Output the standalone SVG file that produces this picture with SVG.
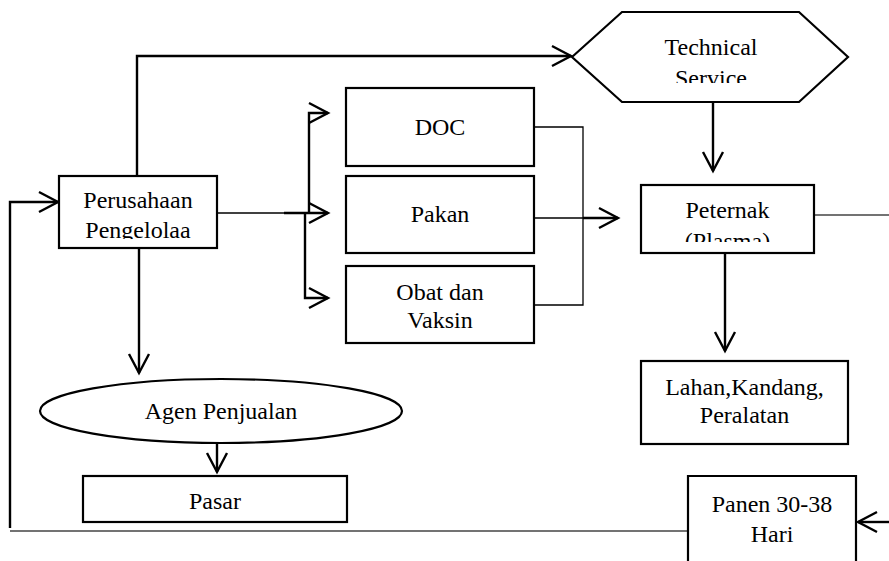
<svg xmlns="http://www.w3.org/2000/svg" width="889" height="561" viewBox="0 0 889 561">
<style>
.box{fill:#fff;stroke:#000;stroke-width:2.2}
.t{font-family:"Liberation Serif","Times New Roman",Times,serif;font-size:24px;fill:#000;text-anchor:middle}
.thick{fill:none;stroke:#000;stroke-width:2.4}
.thin{fill:none;stroke:#000;stroke-width:1.3}
.gray{fill:none;stroke:#444;stroke-width:1.6}
</style>
<defs>
<marker id="ah" markerUnits="userSpaceOnUse" markerWidth="24" markerHeight="24" refX="19" refY="10" orient="auto" overflow="visible">
<path d="M0,0 L19,10 L0,20" fill="none" stroke="#000" stroke-width="2.4"/>
</marker>
<clipPath id="cPer"><rect x="59" y="176" width="158" height="63"/></clipPath>
<clipPath id="cTS"><rect x="572" y="12" width="276" height="71"/></clipPath>
<clipPath id="cPet"><rect x="641" y="185" width="173" height="57"/></clipPath>
</defs>
<rect width="889" height="561" fill="#fff"/>
<g id="connectors">
<path class="thick" d="M137,176 V56 H571" marker-end="url(#ah)"/>
<path class="thin" d="M217,213 H284"/>
<path class="thick" d="M284,213 H328" marker-end="url(#ah)"/>
<path class="thick" d="M309,213 V113 H328" marker-end="url(#ah)"/>
<path class="thick" d="M305,213 V298 H328" marker-end="url(#ah)"/>
<path class="thin" d="M534,127 H583 V305 H534"/>
<path class="thin" d="M534,218 H583"/>
<path class="thick" d="M583,218 H618" marker-end="url(#ah)"/>
<path class="thick" d="M713,102 V171" marker-end="url(#ah)"/>
<path class="thick" d="M725,253 V351" marker-end="url(#ah)"/>
<path class="thick" d="M139,248 V373" marker-end="url(#ah)"/>
<path class="thick" d="M217,444 V472" marker-end="url(#ah)"/>
<path class="gray" d="M688,531 H10"/>
<path class="thick" d="M10,528 V202 H58" marker-end="url(#ah)"/>
<path class="gray" d="M814,215 H889"/>
<path class="thick" d="M889,522 H858" marker-end="url(#ah)"/>
</g>
<g id="perusahaan">
<rect class="box" x="59" y="176" width="158" height="72"/>
<g clip-path="url(#cPer)">
<text class="t" x="138" y="208">Perusahaan</text>
<text class="t" x="138" y="238">Pengelolaa</text>
</g>
</g>
<g id="technical-service">
<polygon class="box" points="572,57 622,12 799,12 848,57 799,102 622,102"/>
<g clip-path="url(#cTS)">
<text class="t" x="711" y="55">Technical</text>
<text class="t" x="711" y="86">Service</text>
</g>
</g>
<g id="doc">
<rect class="box" x="346" y="88" width="188" height="78"/>
<text class="t" x="440" y="135">DOC</text>
</g>
<g id="pakan">
<rect class="box" x="346" y="176" width="188" height="77"/>
<text class="t" x="440" y="222">Pakan</text>
</g>
<g id="obat">
<rect class="box" x="346" y="266" width="188" height="77"/>
<text class="t" x="440" y="300">Obat dan</text>
<text class="t" x="440" y="328">Vaksin</text>
</g>
<g id="peternak">
<rect class="box" x="641" y="185" width="173" height="68"/>
<g clip-path="url(#cPet)">
<text class="t" x="727.5" y="218">Peternak</text>
<text class="t" x="727.5" y="249">(Plasma)</text>
</g>
</g>
<g id="lahan">
<rect class="box" x="641" y="361" width="207" height="83"/>
<text class="t" x="744.5" y="395">Lahan,Kandang,</text>
<text class="t" x="744.5" y="423">Peralatan</text>
</g>
<g id="agen">
<ellipse class="box" cx="221" cy="411" rx="181" ry="32"/>
<text class="t" x="221" y="419">Agen Penjualan</text>
</g>
<g id="pasar">
<rect class="box" x="83" y="476" width="264" height="46"/>
<text class="t" x="215" y="509">Pasar</text>
</g>
<g id="panen">
<path class="box" d="M688,570 V476 H856 V570"/>
<text class="t" x="772" y="512">Panen 30-38</text>
<text class="t" x="772" y="542">Hari</text>
</g>
</svg>
